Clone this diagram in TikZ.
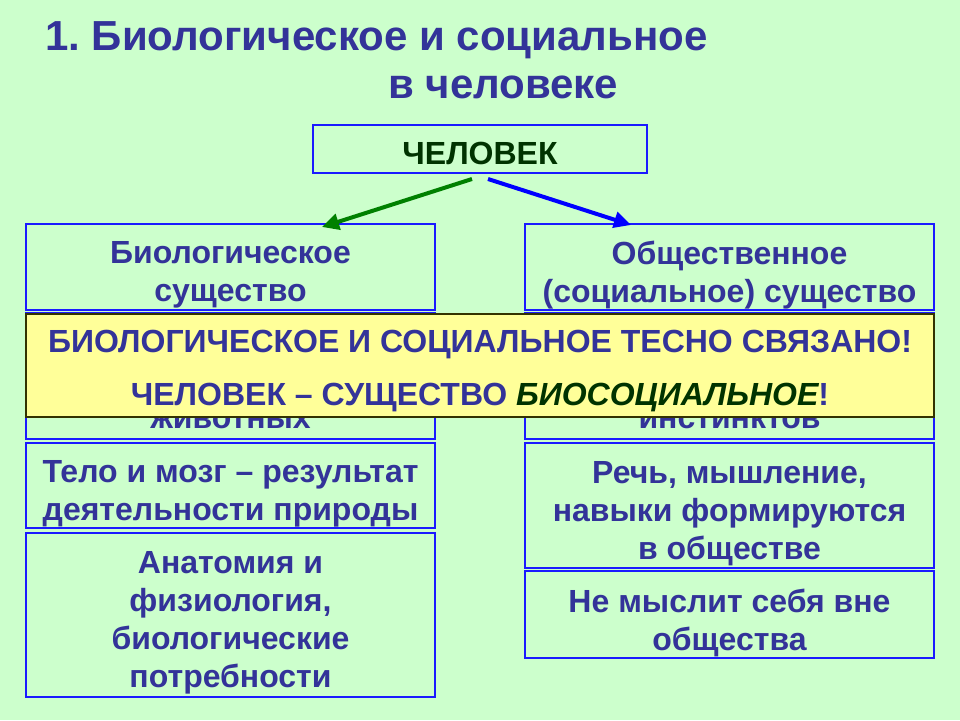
\documentclass[tikz,border=0pt]{standalone}
\usepackage{fontspec}
\setmainfont{Liberation Sans}
\usetikzlibrary{arrows.meta}
\definecolor{bg}{HTML}{CCFFCC}
\definecolor{txtblue}{HTML}{333399}
\definecolor{dkgreen}{HTML}{003300}
\definecolor{boxblue}{HTML}{1A1AFF}
\definecolor{ylw}{HTML}{FFFF99}
\definecolor{ylwborder}{HTML}{333300}
\definecolor{arrgreen}{HTML}{008000}
\definecolor{arrblue}{HTML}{0000FF}
\tikzset{
  box/.style={draw=boxblue, line width=1.3pt, inner sep=0pt, minimum width=409pt},
  boxtext/.style={inner sep=0pt, align=center, text=txtblue,
    font=\bfseries\fontsize{32}{38}\selectfont, yshift=-8pt},
  titletext/.style={text=txtblue, inner sep=0pt, font=\bfseries\fontsize{42}{48}\selectfont},
  yellowtext/.style={text=txtblue, inner sep=0pt, font=\bfseries\fontsize{32}{36}\selectfont, anchor=base},
  linkarrow/.style={line width=4pt, -{Triangle[length=17pt,width=16pt]}},
}
\begin{document}
\begin{tikzpicture}[x=1pt,y=-1pt]
\fill[bg] (0,0) rectangle (960,720);
\useasboundingbox (0,0) rectangle (960,720);

% title
\node[titletext, anchor=base west] (t1) at (45,50) {\frenchspacing 1. Биологическое и социальное};
\node[titletext, anchor=base west] (t2) at (388,98) {в человеке};

% top node
\node[box, minimum width=334pt, minimum height=48pt] (man) at (480,149) {};
\node[boxtext, text=dkgreen, yshift=4pt] (mant) at (man.center) {ЧЕЛОВЕК};

% left column
\node[box, minimum height=86pt] (l1) at (230.5,267) {};
\node[boxtext] (l1t) at (l1.center) {Биологическое\\существо};
\node[box, minimum height=126pt] (l2) at (230.5,376) {};
\node[boxtext, yshift=8pt, anchor=base] (l2t) at (230.5,428) {животных};
\node[box, minimum height=85pt] (l3) at (230.5,485.5) {};
\node[boxtext] (l3t) at (l3.center) {Тело и мозг – результат\\деятельности природы};
\node[box, minimum height=164pt] (l4) at (230.5,615) {};
\node[boxtext] (l4t) at (l4.center) {Анатомия и\\физиология,\\биологические\\потребности};

% right column
\node[box, minimum height=86pt] (r1) at (729.5,267) {};
\node[boxtext] (r1t) at (r1.center) {Общественное\\(социальное) существо};
\node[box, minimum height=126pt] (r2) at (729.5,376) {};
\node[boxtext, yshift=8pt, anchor=base] (r2t) at (729.5,428) {инстинктов};
\node[box, minimum height=125pt] (r3) at (729.5,505.5) {};
\node[boxtext] (r3t) at (r3.center) {Речь, мышление,\\навыки формируются\\в обществе};
\node[box, minimum height=87pt] (r4) at (729.5,614.5) {};
\node[boxtext] (r4t) at (r4.center) {Не мыслит себя вне\\общества};

% arrows
\coordinate (gs) at (472,179);
\coordinate (ge) at (322,227);
\coordinate (bs) at (488,179);
\coordinate (be) at (631,225);
\draw[linkarrow, arrgreen] (gs) -- (ge);
\draw[linkarrow, arrblue] (bs) -- (be);

% yellow overlay
\node[draw=ylwborder, fill=ylw, line width=2.5pt, minimum width=908pt, minimum height=103pt, inner sep=0pt] (yb) at (480,365.5) {};
\node[yellowtext] (y1) at (480,352) {БИОЛОГИЧЕСКОЕ И СОЦИАЛЬНОЕ ТЕСНО СВЯЗАНО!};
\node[yellowtext] (y2) at (480,405) {ЧЕЛОВЕК – СУЩЕСТВО \textcolor{dkgreen}{\itshape БИОСОЦИАЛЬНОЕ}!};
\end{tikzpicture}
\end{document}
